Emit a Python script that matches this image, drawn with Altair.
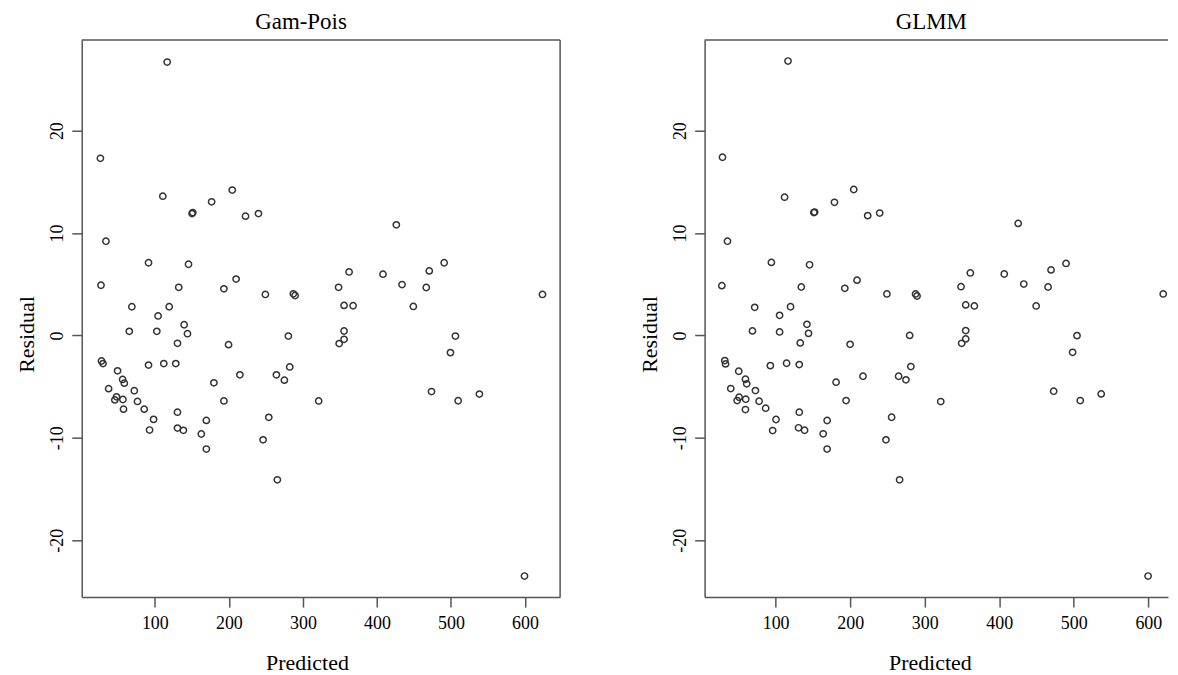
import altair as alt
import pandas as pd

# ---- data ----
gp_pred = [116.7, 26.5, 110.8, 204.6, 176.7, 150.3, 151.3, 222.5, 240.0, 34.0,
           91.5, 145.5, 27.3, 132.3, 209.8, 193.3, 249.3, 287.1, 289.5, 69.0,
           119.4, 104.4, 426.2, 490.8, 362.4, 408.2, 470.7, 433.9, 348.2, 466.6,
           623.6, 355.6, 367.8, 449.2, 65.5, 102.7, 139.6, 144.1, 130.6, 199.6,
           280.4, 28.0, 30.0, 91.5, 112.1, 128.3, 214.9, 264.2, 275.0, 282.2,
           179.8, 49.7, 56.5, 58.8, 37.6, 72.3, 48.3, 46.0, 56.9, 76.6,
           57.7, 85.7, 193.3, 130.6, 98.3, 169.6, 253.9, 92.9, 130.6, 138.6,
           162.8, 169.6, 246.2, 265.5, 355.6, 355.6, 349.0, 506.0, 499.3, 321.3,
           473.7, 509.7, 538.4, 599.3]
gp_resid = [26.7, 17.3, 13.6, 14.2, 13.05, 11.9, 12.0, 11.65, 11.9, 9.2,
            7.1, 6.95, 4.9, 4.7, 5.5, 4.55, 4.0, 4.06, 3.9, 2.8,
            2.8, 1.9, 10.8, 7.1, 6.2, 5.98, 6.3, 4.97, 4.7, 4.68,
            4.0, 2.93, 2.9, 2.83, 0.4, 0.4, 1.04, 0.17, -0.77, -0.9,
            -0.06, -2.5, -2.75, -2.9, -2.75, -2.75, -3.85, -3.85, -4.37, -3.08,
            -4.63, -3.46, -4.3, -4.66, -5.2, -5.4, -6.0, -6.3, -6.26, -6.45,
            -7.2, -7.2, -6.4, -7.5, -8.2, -8.3, -8.0, -9.24, -9.05, -9.27,
            -9.63, -11.1, -10.2, -14.1, 0.43, -0.38, -0.8, -0.06, -1.68, -6.4,
            -5.48, -6.38, -5.73, -23.5]

glmm_pred = [116.6, 28.7, 112.0, 204.8, 178.9, 151.3, 152.3, 223.5, 239.6, 35.4,
             94.3, 145.5, 27.8, 134.4, 209.2, 192.8, 249.3, 287.7, 289.7, 71.9,
             120.0, 105.3, 425.4, 489.6, 361.2, 406.7, 469.5, 432.9, 348.7, 465.5,
             620.0, 355.0, 366.6, 449.5, 68.9, 105.3, 142.0, 144.1, 133.0, 199.9,
             279.8, 31.8, 32.8, 92.9, 114.7, 131.7, 217.2, 265.0, 274.8, 281.4,
             181.1, 50.5, 59.5, 61.2, 39.8, 72.9, 51.0, 48.4, 59.9, 77.8,
             59.5, 86.6, 194.5, 131.7, 100.5, 169.1, 255.6, 96.0, 130.7, 138.8,
             163.8, 169.1, 248.0, 266.3, 355.0, 355.0, 349.6, 504.3, 498.4, 321.5,
             473.0, 508.7, 536.8, 599.7]
glmm_resid = [26.8, 17.4, 13.5, 14.25, 13.0, 12.0, 12.05, 11.7, 11.95, 9.2,
              7.13, 6.9, 4.86, 4.73, 5.4, 4.6, 4.05, 4.05, 3.85, 2.74,
              2.8, 1.96, 10.94, 7.03, 6.1, 6.0, 6.4, 5.02, 4.76, 4.73,
              4.05, 2.98, 2.88, 2.88, 0.44, 0.34, 1.08, 0.2, -0.73, -0.87,
              0.0, -2.46, -2.78, -2.95, -2.72, -2.85, -3.99, -3.99, -4.34, -3.04,
              -4.57, -3.5, -4.28, -4.73, -5.19, -5.39, -6.04, -6.36, -6.23, -6.43,
              -7.24, -7.11, -6.36, -7.5, -8.21, -8.31, -7.99, -9.29, -9.02, -9.26,
              -9.61, -11.1, -10.2, -14.1, 0.47, -0.34, -0.77, -0.02, -1.65, -6.46,
              -5.45, -6.36, -5.71, -23.5]

x_ticks = [100, 200, 300, 400, 500, 600]
y_ticks = [-20, -10, 0, 10, 20]

FONT = "'Liberation Serif', 'Times New Roman', Times, serif"
FRAME = "#555555"
H = 559


def panel(pred, resid, title, xdom, width, right_border, dx):
    df = pd.DataFrame({"Predicted": pred, "Residual": resid})
    pts = alt.Chart(df).mark_point(
        shape="circle", filled=False, size=40, strokeWidth=1.5,
        color="#333333", opacity=1
    ).encode(
        x=alt.X("Predicted:Q",
                scale=alt.Scale(domain=xdom, nice=False, zero=False),
                axis=alt.Axis(values=x_ticks, title="Predicted", titleX=226,
                              labelExpr="'' + datum.value")),
        y=alt.Y("Residual:Q",
                scale=alt.Scale(domain=[-25.56, 28.85], nice=False, zero=False),
                axis=alt.Axis(values=y_ticks, title="Residual", titleY=295,
                              labelExpr="'' + datum.value")),
    )
    one = pd.DataFrame({"k": [0]})
    layers = [pts,
              alt.Chart(one).mark_rule(color=FRAME, strokeWidth=1.5).encode(
                  x=alt.value(0), x2=alt.value(width), y=alt.value(0))]
    if right_border:
        layers.append(alt.Chart(one).mark_rule(color=FRAME, strokeWidth=1.5).encode(
            x=alt.value(width), y=alt.value(0), y2=alt.value(H)))
    return alt.layer(*layers).properties(
        width=width, height=H, title=alt.TitleParams(title, dx=dx))


left = panel(gp_pred, gp_resid, "Gam-Pois", [1.3, 647.4], 480, True, -20)
right = panel(glmm_pred, glmm_resid, "GLMM", [4.7, 626.4], 465, False, -5)

chart = alt.hconcat(left, right, spacing=77).properties(
    padding={"left": 7, "top": 2, "right": 0, "bottom": 0}
).configure_view(strokeWidth=0).configure_axis(
    domainColor=FRAME, domainWidth=1.5, tickColor=FRAME, tickWidth=1.5,
    tickSize=10, grid=False,
    labelFont=FONT, labelFontSize=18, labelColor="#000000",
    titleFont=FONT, titleFontSize=22, titleFontWeight="normal", titleColor="#000000",
).configure_axisX(labelPadding=7, titlePadding=21).configure_axisY(
    labelPadding=5, titlePadding=10, labelAngle=270
).configure_title(
    font=FONT, fontSize=23, fontWeight="normal", color="#000000", offset=5
)

chart.save("out.html", embed_options={"renderer": "svg", "actions": False})
